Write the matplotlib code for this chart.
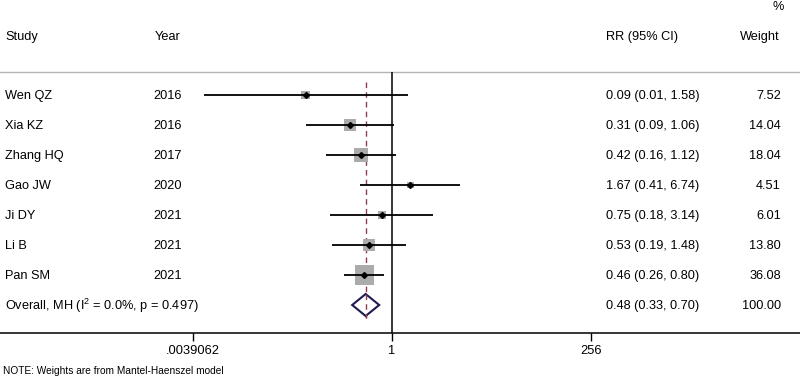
import numpy as np
import matplotlib
matplotlib.use("Agg")
import matplotlib.pyplot as plt
from matplotlib.ticker import FixedLocator, FixedFormatter, NullLocator

# ---- data ----
studies = ["Wen QZ", "Xia KZ", "Zhang HQ", "Gao JW", "Ji DY", "Li B", "Pan SM"]
years = ["2016", "2016", "2017", "2020", "2021", "2021", "2021"]
rr = [0.09, 0.31, 0.42, 1.67, 0.75, 0.53, 0.46]
lo = [0.0053, 0.09, 0.16, 0.41, 0.18, 0.19, 0.26]
hi = [1.58, 1.06, 1.12, 6.74, 3.14, 1.48, 0.80]
weights = [7.52, 14.04, 18.04, 4.51, 6.01, 13.80, 36.08]
overall_rr, overall_lo, overall_hi, overall_w = 0.48, 0.33, 0.70, 100.00
i2, pval = 0.0, 0.497
tick_vals = [2.0 ** -8, 1.0, 256.0]
tick_labels = [".0039062", "1", "256"]

plt.rcParams['font.family'] = ['Liberation Sans', 'DejaVu Sans']
plt.rcParams['mathtext.fontset'] = 'custom'
plt.rcParams['mathtext.rm'] = 'Liberation Sans'
plt.rcParams['mathtext.it'] = 'Liberation Sans'

W, H = 800, 378
fig = plt.figure(figsize=(W / 100, H / 100), dpi=100)
axis_px = 333
ax = fig.add_axes([0, (H - axis_px) / H, 1, axis_px / H])

# log x mapping: 1 at px 392, ~36 px per ln unit
ppl = 35.9
x_one = 392
ax.set_xscale('log')
ax.set_xlim(np.exp(-x_one / ppl), np.exp((W - x_one) / ppl))
ax.set_ylim(axis_px, 0)

for s in ['top', 'left', 'right']:
    ax.spines[s].set_visible(False)
ax.spines['bottom'].set_linewidth(1.1)
ax.yaxis.set_visible(False)
ax.xaxis.set_major_locator(FixedLocator(tick_vals))
ax.xaxis.set_major_formatter(FixedFormatter(tick_labels))
ax.xaxis.set_minor_locator(NullLocator())
ax.tick_params(axis='x', direction='out', length=6, width=1.0, pad=3, labelsize=9.3)

fs = 9.2
row0, dy = 95, 30
rows = [row0 + dy * i for i in range(len(studies))]
y_over = row0 + dy * len(studies)
toff = 1  # text vertical nudge (px)

tr = ax.get_yaxis_transform()  # x axes fraction, y data
def xf(px):
    return px / W

# header
ax.text(xf(5), 36 + toff, "Study", transform=tr, fontsize=fs, va='center', ha='left')
ax.text(xf(155), 36 + toff, "Year", transform=tr, fontsize=fs, va='center', ha='left')
ax.text(xf(606), 36 + toff, "RR (95% CI)", transform=tr, fontsize=fs, va='center', ha='left')
ax.text(xf(780), 36 + toff, "Weight", transform=tr, fontsize=fs, va='center', ha='right')
ax.text(xf(784), 6 + toff, "%", transform=tr, fontsize=fs, va='center', ha='right')
ax.axhline(72, color='#b4b4b4', lw=1.0, clip_on=False)

# reference lines
ax.vlines(1.0, 72, axis_px, color='black', lw=1.1)
ax.vlines(overall_rr, 82, 318, color='#8a4050', lw=1.0, linestyles=(0, (4, 3)))

# studies
for i, y in enumerate(rows):
    ax.scatter([rr[i]], [y], s=5.2 * weights[i], marker='s', color='#ababab',
               edgecolors='none', zorder=2)
    ax.hlines(y, lo[i], hi[i], color='black', lw=1.3, zorder=3)
    ax.plot([rr[i]], [y], marker='D', ms=3.0, color='black', zorder=4)
    ax.text(xf(5), y + toff, studies[i], transform=tr, fontsize=fs, va='center', ha='left')
    ax.text(xf(153), y + toff, years[i], transform=tr, fontsize=fs, va='center', ha='left')
    ax.text(xf(606), y + toff, "%.2f (%.2f, %.2f)" % (rr[i], lo[i], hi[i]), transform=tr,
            fontsize=fs, va='center', ha='left')
    ax.text(xf(781), y + toff, "%.2f" % weights[i], transform=tr, fontsize=fs,
            va='center', ha='right')

# overall diamond
half = 11
ax.fill([overall_lo, overall_rr, overall_hi, overall_rr],
        [y_over, y_over - half, y_over, y_over + half],
        facecolor='white', edgecolor='#1f1a4f', lw=1.5, zorder=3)
ax.vlines(overall_rr, y_over - half, 318, color='#8a4050', lw=1.0,
          linestyles=(0, (4, 3)), zorder=4)
ax.text(xf(5), y_over + toff, "Overall, MH (I$^2$ = %.1f%%, p = %.3f)" % (i2, pval),
        transform=tr, fontsize=fs, va='center', ha='left')
ax.text(xf(606), y_over + toff, "%.2f (%.2f, %.2f)" % (overall_rr, overall_lo, overall_hi),
        transform=tr, fontsize=fs, va='center', ha='left')
ax.text(xf(781), y_over + toff, "%.2f" % overall_w, transform=tr, fontsize=fs,
        va='center', ha='right')

fig.text(3 / W, 1 - 371 / H, "NOTE: Weights are from Mantel-Haenszel model",
         fontsize=7.3, va='center', ha='left')

fig.savefig("out.png", dpi=100, facecolor='white')
